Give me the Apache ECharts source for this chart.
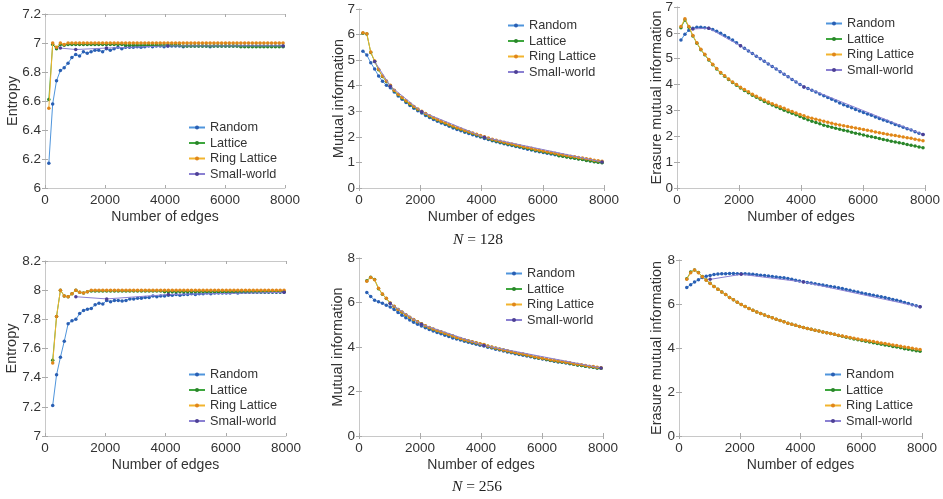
<!DOCTYPE html>
<html>
<head>
<meta charset="utf-8">
<script src="https://cdn.jsdelivr.net/npm/echarts@6/dist/echarts.min.js"></script>
<style>
html,body{margin:0;padding:0;background:#fff;}
#chart{width:943px;height:499px;}
</style>
</head>
<body>
<div id="chart"></div>
<script>
// ---------- x values (number of edges) ----------
const xs128 = [128,256,384,512,640,768,896,1024,1152,1280,1408,1536,1664,1792,1920,2048,2176,2304,2432,2560,2688,2816,2944,3072,3200,3328,3456,3584,3712,3840,3968,4096,4224,4352,4480,4608,4736,4864,4992,5120,5248,5376,5504,5632,5760,5888,6016,6144,6272,6400,6528,6656,6784,6912,7040,7168,7296,7424,7552,7680,7808,7936];
const xs256 = [256,384,512,640,768,896,1024,1152,1280,1408,1536,1664,1792,1920,2048,2176,2304,2432,2560,2688,2816,2944,3072,3200,3328,3456,3584,3712,3840,3968,4096,4224,4352,4480,4608,4736,4864,4992,5120,5248,5376,5504,5632,5760,5888,6016,6144,6272,6400,6528,6656,6784,6912,7040,7168,7296,7424,7552,7680,7808,7936];
const xsSW128 = [512,1024,2048,4096,7936];
const xsSW256 = [1024,2048,4096,7936];

const seriesNames = ['Random','Lattice','Ring Lattice','Small-world'];

// ---------- N = 128 : Entropy ----------
const ent128Random = [6.17,6.58,6.74,6.81,6.83,6.86,6.90,6.92,6.91,6.94,6.93,6.94,6.95,6.95,6.94,6.96,6.95,6.96,6.97,6.96,6.97,6.97,6.97,6.975,
 6.97,6.975,6.98,6.975,6.98,6.98,6.975,6.98,6.98,6.98,6.98,6.975,6.98,6.98,6.98,6.98,6.98,6.98,6.975,6.98,6.98,6.98,6.98,6.98,6.98,6.98,6.98,6.98,6.98,6.98,6.98,6.98,6.98,6.98,6.98,6.98,6.98,6.98];
const ent128Lattice = [6.61,6.99,6.96,6.99,6.985,6.99,
 6.99,6.99,6.99,6.99,6.99,6.99,6.99,6.99,6.99,6.99,6.99,6.99,6.99,6.99,
 6.985,6.985,6.985,6.985,6.985,6.985,6.985,6.985,6.985,6.985,6.985,6.985,6.985,6.985,6.985,
 6.98,6.98,6.98,6.98,6.98,6.98,6.98,6.98,6.98,6.98,6.98,6.98,6.98,6.98,6.98,
 6.975,6.975,6.975,6.975,6.975,6.975,6.975,6.975,6.975,6.975,6.975,6.975];
const ent128Ring = [6.55,7.00,6.97,7.00,6.99,7,7,7,7,7,7,7,7,7,7,7,7,7,7,7,7,7,7,7,7,7,7,7,7,7,7,7,7,7,7,7,7,7,7,7,7,7,7,7,7,7,7,7,7,7,7,7,7,7,7,7,7,7,7,7,7,7];
const ent128SW = [6.965,6.955,6.965,6.98,6.98];

// ---------- N = 128 : Mutual information ----------
const mi128Random = [5.35,5.20,4.90,4.65,4.38,4.17,4.02,3.92,3.75,3.60,3.47,3.34,3.23,3.12,3.02,2.93,2.84,2.76,2.68,2.61,2.54,2.48,2.41,2.35,2.29,2.24,2.18,2.13,2.08,2.03,
 1.99,1.94,1.90,1.85,1.81,1.77,1.73,1.69,1.66,1.62,1.59,1.55,1.52,1.49,1.45,1.42,1.39,1.36,1.33,1.30,
 1.27,1.25,1.22,1.19,1.17,1.14,1.12,1.09,1.07,1.04,1.02,1.00];
const mi128Lattice = [6.05,6.02,5.30,4.95,4.62,4.36,4.16,4.00,
 3.80,3.65,3.52,3.39,3.28,3.17,3.07,2.98,2.89,2.81,2.73,2.66,2.59,2.53,2.46,2.40,2.34,2.29,2.23,2.18,2.13,2.08,
 2.02,1.97,1.93,1.88,1.84,1.80,1.76,1.72,1.69,1.65,1.62,1.58,1.55,1.52,1.48,1.45,1.42,1.39,1.36,1.33,
 1.26,1.24,1.21,1.18,1.16,1.13,1.11,1.08,1.06,1.03,1.01,0.99];
const mi128Ring = [6.07,6.03,5.32,4.97,4.64,4.38,4.18,4.02,
 3.82,3.67,3.54,3.41,3.30,3.19,3.09,3.00,2.91,2.83,2.75,2.68,2.61,2.55,2.48,2.42,2.36,2.31,2.25,2.20,2.15,2.10,
 2.05,2.00,1.96,1.91,1.87,1.83,1.79,1.75,1.72,1.68,1.65,1.61,1.58,1.55,1.51,1.48,1.45,1.42,1.39,1.36,
 1.32,1.30,1.27,1.24,1.22,1.19,1.17,1.14,1.12,1.09,1.07,1.05];
const mi128SW = [4.95,3.98,2.98,1.98,1.02];

// ---------- N = 128 : Erasure mutual information ----------
const er128Random = [5.72,5.95,6.10,6.18,6.22,6.22,6.20,6.18,6.13,6.06,5.98,5.90,5.81,5.72,5.62,5.50,
 5.40,5.30,5.20,5.10,5.00,4.90,4.80,4.70,4.60,4.50,4.40,4.30,4.20,4.10,4.00,3.91,
 3.85,3.78,3.71,3.64,3.57,3.50,3.43,3.36,3.29,3.22,3.16,3.10,3.04,2.98,2.92,
 2.86,2.81,2.75,2.69,2.63,2.58,2.52,2.46,2.41,2.35,2.29,2.24,2.18,2.12,2.07];
const er128Lattice = [6.20,6.50,6.22,5.88,5.60,5.35,5.15,4.95,4.77,4.60,4.45,4.32,4.20,4.08,3.97,3.87,
 3.77,3.68,3.59,3.51,3.43,3.35,3.28,3.21,3.14,3.07,3.01,2.95,2.89,2.83,2.77,2.70,
 2.64,2.58,2.53,2.48,2.43,2.39,2.35,2.31,2.27,2.23,2.20,2.16,2.12,2.09,2.05,
 2.01,1.98,1.95,1.91,1.88,1.85,1.81,1.78,1.75,1.72,1.68,1.65,1.62,1.59,1.56];
const er128Ring = [6.25,6.55,6.25,5.90,5.62,5.37,5.17,4.97,4.79,4.62,4.47,4.34,4.22,4.10,4.00,3.90,
 3.81,3.72,3.63,3.55,3.47,3.40,3.33,3.26,3.20,3.14,3.08,3.02,2.96,2.90,2.84,2.79,
 2.74,2.70,2.66,2.62,2.58,2.54,2.50,2.47,2.44,2.41,2.38,2.35,2.32,2.29,2.26,
 2.23,2.20,2.17,2.14,2.11,2.08,2.05,2.03,2.00,1.97,1.94,1.92,1.89,1.86,1.83];
const er128SW = [6.15,6.18,5.50,3.91,2.07];

// ---------- N = 256 : Entropy ----------
const ent256Random = [7.21,7.42,7.54,7.65,7.77,7.79,7.80,7.84,7.86,7.87,7.875,7.90,7.91,7.905,7.93,7.92,7.93,7.93,7.925,7.93,7.94,7.94,7.945,7.945,7.95,7.95,7.96,7.955,7.96,7.96,7.965,7.965,7.97,7.965,7.97,7.97,
 7.975,7.97,7.975,7.975,7.98,7.975,7.98,7.98,7.98,7.98,7.98,7.985,7.98,7.985,7.985,7.985,7.985,7.985,7.985,7.985,7.985,7.985,7.985,7.985,7.985];
const ent256Lattice = [7.52,7.82,8.0,7.96,7.955,7.975,8.0,7.985,7.98,7.99,7.995,
 7.995,7.995,7.995,7.995,7.995,7.995,7.995,7.995,7.995,7.995,7.995,7.995,7.995,7.995,7.995,7.995,7.995,7.995,
 7.99,7.99,7.99,7.99,7.99,7.99,7.99,7.99,7.99,7.99,7.99,7.99,7.99,7.99,7.99,7.99,7.99,7.99,7.99,7.99,7.99,7.99,7.99,7.99,7.99,7.99,7.99,7.99,7.99,7.99,7.99,7.99];
const ent256Ring = [7.50,7.82,8.0,7.96,7.955,7.975,8.0,7.985,7.98,7.99,8,8,8,8,8,8,8,8,8,8,8,8,8,8,8,8,8,8,8,8,8,8,8,8,8,8,8,8,8,8,8,8,8,8,8,8,8,8,8,8,8,8,8,8,8,8,8,8,8,8,8];
const ent256SW = [7.955,7.94,7.97,7.985];

// ---------- N = 256 : Mutual information ----------
const mi256Random = [6.45,6.27,6.10,6.03,5.97,5.88,5.80,5.69,5.55,5.43,5.31,5.21,5.11,5.02,4.94,
 4.86,4.79,4.72,4.65,4.59,4.53,4.47,4.41,4.36,4.31,4.26,4.21,4.17,4.12,4.08,4.04,
 3.99,3.95,3.90,3.86,3.82,3.78,3.74,3.70,3.66,3.63,3.59,3.56,3.52,3.49,3.46,3.43,3.39,3.36,3.33,3.31,
 3.28,3.25,3.22,3.19,3.17,3.14,3.11,3.09,3.06,3.04];
const mi256Lattice = [6.98,7.14,7.03,6.62,6.37,6.18,5.97,5.82,5.68,5.56,5.44,5.33,5.23,5.13,5.04,
 4.94,4.87,4.80,4.73,4.67,4.61,4.55,4.49,4.42,4.37,4.32,4.27,4.23,4.18,4.14,4.10,
 4.03,3.99,3.94,3.90,3.86,3.82,3.78,3.74,3.70,3.67,3.63,3.60,3.54,3.51,3.48,3.45,3.41,3.38,3.35,3.33,
 3.30,3.27,3.22,3.19,3.17,3.14,3.11,3.09,3.06,3.04];
const mi256Ring = [6.95,7.12,7.02,6.64,6.38,6.19,5.98,5.83,5.69,5.57,5.45,5.34,5.24,5.14,5.05,
 4.95,4.88,4.81,4.74,4.68,4.62,4.56,4.50,4.43,4.38,4.33,4.28,4.24,4.19,4.15,4.11,
 4.04,4.00,3.95,3.91,3.87,3.83,3.79,3.75,3.71,3.68,3.64,3.61,3.56,3.53,3.50,3.47,3.43,3.40,3.37,3.35,
 3.32,3.29,3.25,3.22,3.20,3.17,3.14,3.12,3.09,3.07];
const mi256SW = [5.95,5.02,4.07,3.06];

// ---------- N = 256 : Erasure mutual information ----------
const er256Random = [6.75,6.88,7.00,7.10,7.20,7.26,7.30,7.34,7.36,7.37,7.38,7.39,7.39,7.38,7.38,
 7.37,7.36,7.35,7.33,7.31,7.29,7.27,7.25,7.23,7.21,7.19,7.16,7.12,7.08,7.04,7.01,
 6.98,6.95,6.92,6.89,6.86,6.83,6.80,6.77,6.74,6.70,6.66,6.62,6.58,6.54,6.50,
 6.47,6.43,6.40,6.36,6.33,6.29,6.25,6.21,6.17,6.12,6.07,6.02,5.97,5.92,5.87];
const er256Lattice = [7.15,7.45,7.55,7.43,7.25,7.09,6.94,6.80,6.67,6.55,6.43,6.30,6.19,6.08,5.98,
 5.89,5.80,5.72,5.64,5.57,5.50,5.43,5.37,5.31,5.25,5.19,5.13,5.08,5.03,4.98,4.93,
 4.89,4.85,4.81,4.77,4.73,4.69,4.66,4.62,4.57,4.53,4.49,4.45,4.41,4.38,4.34,
 4.31,4.27,4.24,4.21,4.17,4.14,4.11,4.07,4.04,4.01,3.97,3.94,3.91,3.88,3.85];
const er256Ring = [7.12,7.42,7.55,7.42,7.24,7.08,6.93,6.80,6.67,6.55,6.43,6.30,6.19,6.08,5.98,
 5.89,5.80,5.72,5.64,5.57,5.50,5.43,5.37,5.31,5.25,5.19,5.13,5.08,5.03,4.98,4.93,
 4.89,4.85,4.81,4.77,4.73,4.69,4.66,4.62,4.58,4.55,4.51,4.48,4.44,4.41,4.38,
 4.35,4.32,4.29,4.26,4.23,4.20,4.17,4.14,4.11,4.08,4.05,4.02,3.99,3.96,3.93];
const er256SW = [7.12,7.35,7.00,5.87];

// ---------- styling ----------
const FONT = '"Liberation Sans", Arial, Helvetica, sans-serif';
const TXT = '#333333';
const BOX = '#c8c8c8';
const COLORS = {
  'Random':       {line:'#4f95dc', mark:'#2a5fb3'},
  'Lattice':      {line:'#3da63d', mark:'#2a852a'},
  'Ring Lattice': {line:'#f2b42e', mark:'#e0861a'},
  'Small-world':  {line:'#8a80d2', mark:'#4d3f95'}
};

const panels = [
  {grid:{left:45, top:14, width:240, height:174}, ymin:6, ymax:7.2, yint:0.2, yname:'Entropy', ygap:25,
   xs:xs128, xsw:xsSW128, data:[ent128Random, ent128Lattice, ent128Ring, ent128SW], legend:{left:188, top:120}},
  {grid:{left:359, top:9, width:245, height:179}, ymin:0, ymax:7, yint:1, yname:'Mutual information', ygap:13,
   xs:xs128, xsw:xsSW128, data:[mi128Random, mi128Lattice, mi128Ring, mi128SW], legend:{left:507, top:18}},
  {grid:{left:677, top:7, width:248, height:181}, ymin:0, ymax:7, yint:1, yname:'Erasure mutual information', ygap:13,
   xs:xs128, xsw:xsSW128, data:[er128Random, er128Lattice, er128Ring, er128SW], legend:{left:825, top:16}},
  {grid:{left:45, top:261, width:241, height:175}, ymin:7, ymax:8.2, yint:0.2, yname:'Entropy', ygap:26,
   xs:xs256, xsw:xsSW256, data:[ent256Random, ent256Lattice, ent256Ring, ent256SW], legend:{left:188, top:367}},
  {grid:{left:359, top:258, width:244, height:178}, ymin:0, ymax:8, yint:2, yname:'Mutual information', ygap:14,
   xs:xs256, xsw:xsSW256, data:[mi256Random, mi256Lattice, mi256Ring, mi256SW], legend:{left:505, top:266}},
  {grid:{left:679, top:260, width:243, height:176}, ymin:0, ymax:8, yint:2, yname:'Erasure mutual information', ygap:15,
   xs:xs256, xsw:xsSW256, data:[er256Random, er256Lattice, er256Ring, er256SW], legend:{left:824, top:367}}
];

const grids = [], xAxes = [], yAxes = [], series = [], legends = [];
panels.forEach(function(p, i){
  grids.push(Object.assign({containLabel:false}, p.grid));
  const tick = {show:true, inside:true, length:3, lineStyle:{color:'#aaaaaa', width:1}};
  const line = {show:true, lineStyle:{color:BOX, width:1}};
  xAxes.push({type:'value', gridIndex:i, position:'bottom', min:0, max:8000, interval:2000,
    axisLine:line, axisTick:tick, splitLine:{show:false},
    axisLabel:{color:TXT, fontFamily:FONT, fontSize:13.5, margin:5, formatter:function(v){ return String(v); }},
    name:'Number of edges', nameLocation:'middle', nameGap:22, nameMoveOverlap:false,
    nameTextStyle:{color:TXT, fontFamily:FONT, fontSize:14}});
  xAxes.push({type:'value', gridIndex:i, position:'top', min:0, max:8000, interval:2000,
    axisLine:line, axisTick:tick, axisLabel:{show:false}, splitLine:{show:false}});
  yAxes.push({type:'value', gridIndex:i, position:'left', min:p.ymin, max:p.ymax, interval:p.yint,
    axisLine:line, axisTick:tick, splitLine:{show:false},
    axisLabel:{color:TXT, fontFamily:FONT, fontSize:13.5, margin:4},
    name:p.yname, nameLocation:'middle', nameGap:p.ygap, nameRotate:90, nameMoveOverlap:false,
    nameTextStyle:{color:TXT, fontFamily:FONT, fontSize:14.5}});
  yAxes.push({type:'value', gridIndex:i, position:'right', min:p.ymin, max:p.ymax, interval:p.yint,
    axisLine:line, axisTick:tick, axisLabel:{show:false}, splitLine:{show:false}});
  seriesNames.forEach(function(name, j){
    const xv = (j === 3) ? p.xsw : p.xs;
    const yv = p.data[j];
    const pts = xv.map(function(x, k){ return [x, yv[k]]; });
    series.push({type:'line', name:name, xAxisIndex:2*i, yAxisIndex:2*i, data:pts,
      symbol:'circle', symbolSize:3.5, showSymbol:true, silent:true, animation:false,
      lineStyle:{width:1, color:COLORS[name].line},
      itemStyle:{color:COLORS[name].mark},
      z:2+j});
  });
  legends.push({left:p.legend.left, top:p.legend.top, orient:'vertical', data:seriesNames,
    padding:0, itemWidth:16, itemHeight:5, itemGap:0.5, selectedMode:false,
    textStyle:{color:TXT, fontFamily:FONT, fontSize:12.7, lineHeight:15}});
});

const chart = echarts.init(document.getElementById('chart'), null, {renderer:'canvas'});
chart.setOption({
  backgroundColor:'#ffffff',
  animation:false,
  grid:grids, xAxis:xAxes, yAxis:yAxes, series:series, legend:legends,
  graphic:[
    {type:'text', left:453, top:232, style:{
      text:'{i|N} = 128', fill:'#222', font:'15.5px "Liberation Serif", "Times New Roman", serif',
      rich:{i:{fontStyle:'italic', fontFamily:'"Liberation Serif", serif', fontSize:15.5, fill:'#222'}}}},
    {type:'text', left:452, top:479, style:{
      text:'{i|N} = 256', fill:'#222', font:'15.5px "Liberation Serif", "Times New Roman", serif',
      rich:{i:{fontStyle:'italic', fontFamily:'"Liberation Serif", serif', fontSize:15.5, fill:'#222'}}}}
  ]
});
</script>
</body>
</html>
